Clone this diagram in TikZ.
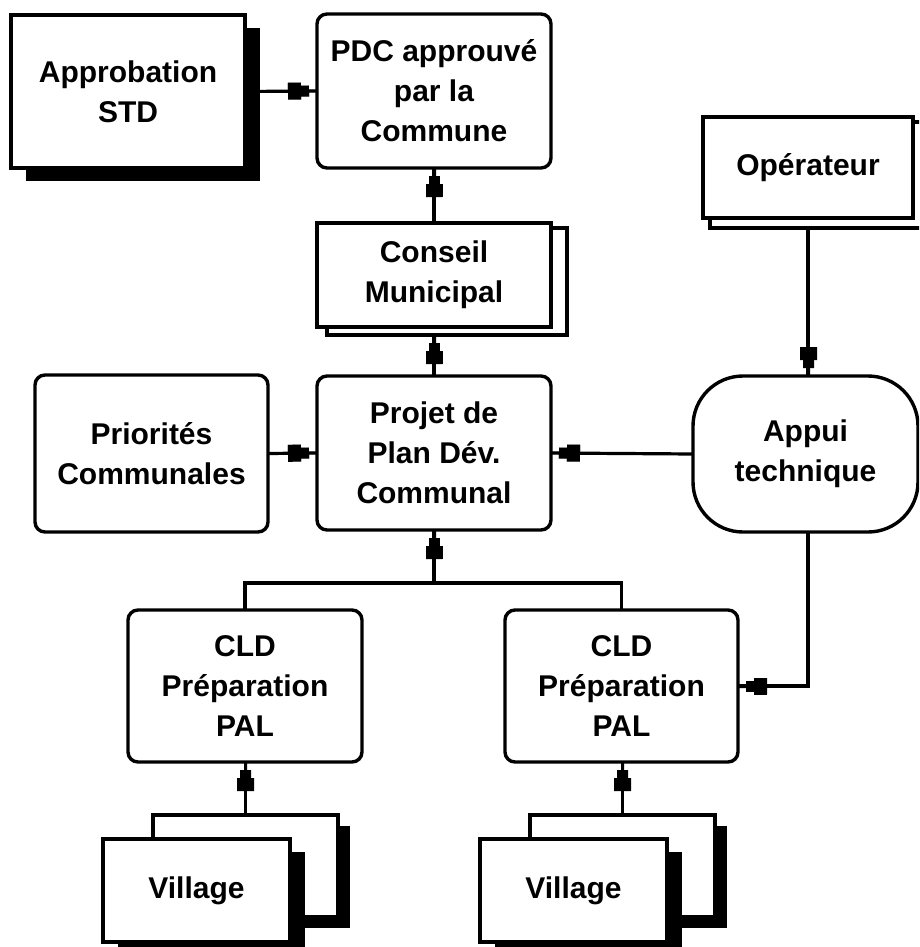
\documentclass[tikz,border=0pt]{standalone}
\usepackage{fontspec}
\setmainfont{Liberation Sans}
\usetikzlibrary{arrows.meta,shadows}
\tikzset{
  lbl/.style={font=\fontsize{30}{40}\selectfont\bfseries, align=center},
  box/.style={draw, line width=3.4pt, fill=white, inner sep=0pt, outer sep=0pt, lbl},
  rbox/.style={box, rounded corners=10pt},
  backbox/.style={draw, line width=3.2pt, fill=white, inner sep=0pt, outer sep=0pt},
  shad/.style={drop shadow={shadow xshift=15pt,shadow yshift=-13pt,opacity=1,fill=black}},
  shadsmall/.style={drop shadow={shadow xshift=12pt,shadow yshift=-11pt,opacity=1,fill=black}},
  conn/.style={line width=3.2pt},
  arr/.style={conn, -{Rectangle[length=13pt,width=17pt,sep=0pt,line width=0.01pt]Rectangle[length=8pt,width=11pt,sep=0pt,line width=0.01pt]Rectangle[length=8pt,width=3.2pt,sep=0pt,line width=0.01pt]}}
}
\begin{document}
\begin{tikzpicture}[x=1pt,y=-1pt]
\clip (0,0) rectangle (919,947);
\fill[white] (0,0) rectangle (919,947);

% top row
\node[box,shad,minimum width=234pt,minimum height=153pt] (appro) at (128,91.5) {Approbation\\STD};
\node[rbox,minimum width=234pt,minimum height=154pt] (pdc) at (434,91) {PDC approuvé\\par la\\Commune};

% conseil municipal (stacked)
\node[backbox,minimum width=240pt,minimum height=107pt] (conb) at (447,281.5) {};
\node[box,minimum width=234pt,minimum height=104pt] (conseil) at (434,275) {Conseil\\Municipal};

% operateur (stacked)
\node[backbox,minimum width=220pt,minimum height=106pt] (operb) at (820,175) {};
\node[box,minimum width=210pt,minimum height=101pt] (oper) at (808,167.5) {Opérateur};

% middle row
\node[rbox,minimum width=233pt,minimum height=157pt] (prio) at (151.5,453.5) {Priorités\\Communales};
\node[rbox,minimum width=234pt,minimum height=154pt] (projet) at (434,453) {Projet de\\Plan Dév.\\Communal};
\node[box,rounded corners=50pt,minimum width=225pt,minimum height=156pt] (appui) at (805.5,454) {Appui\\technique};

% CLD
\node[rbox,minimum width=234pt,minimum height=152pt] (cld1) at (245,686) {CLD\\Préparation\\PAL};
\node[rbox,minimum width=233pt,minimum height=152pt] (cld2) at (621.5,686) {CLD\\Préparation\\PAL};

% villages
\node[backbox,shadsmall,minimum width=185pt,minimum height=102pt] (vb1) at (245.5,866) {};
\node[box,shad,minimum width=187pt,minimum height=103pt] (v1) at (196.5,890.5) {Village};
\node[backbox,shadsmall,minimum width=185pt,minimum height=102pt] (vb2) at (622.5,866) {};
\node[box,shad,minimum width=187pt,minimum height=103pt] (v2) at (573.5,890.5) {Village};

% connectors
\draw[arr] (appro.east) -- (pdc.west);
\draw[arr] (conseil.north) -- (pdc.south);
\draw[arr] (projet.north) -- (conb.south -| projet.north);
\draw[arr] (oper.south |- operb.south) -- (oper.south |- appui.north);
\draw[arr] (appui.west) -- (projet.east);
\draw[arr] (prio.east) -- (projet.west);
\coordinate (j) at (434,583);
\draw[conn] (cld1.north) |- (j) -| (cld2.north);
\draw[arr] (j) -- (projet.south);
\draw[arr] (oper.south |- appui.south) |- (cld2.east);
\draw[arr] (vb1.north) -- (vb1.north |- cld1.south);
\draw[arr] (vb2.north) -- (vb2.north |- cld2.south);
\end{tikzpicture}
\end{document}
